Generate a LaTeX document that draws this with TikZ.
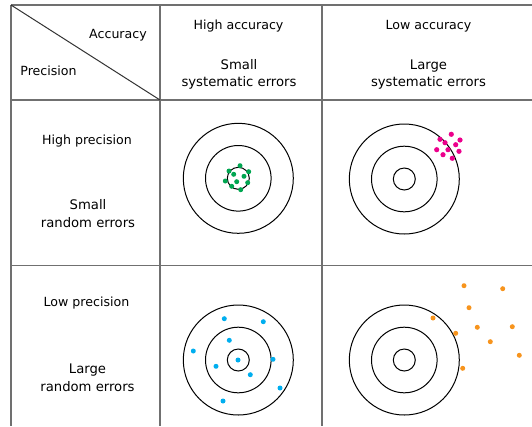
\documentclass[tikz,border=0pt]{standalone}
\usepackage{fontspec}
\setmainfont{DejaVu Sans}
\definecolor{gridgrey}{HTML}{707070}
\definecolor{dotgreen}{HTML}{00A651}
\definecolor{dotmagenta}{HTML}{EC008C}
\definecolor{dotcyan}{HTML}{00AEEF}
\definecolor{dotorange}{HTML}{F7941D}
\tikzset{
  gridline/.style={draw=gridgrey, line width=1.2pt},
  ring/.style={draw=black, line width=1pt},
  smalltxt/.style={anchor=base, inner sep=0pt, font=\fontsize{12.6}{15}\selectfont},
  bigtxt/.style={anchor=base, inner sep=0pt, font=\fontsize{13.2}{17}\selectfont},
}
\newcommand{\mytarget}[2]{%
  \draw[ring] (#1,#2) circle[radius=55];
  \draw[ring] (#1,#2) circle[radius=32.8];
  \draw[ring] (#1,#2) circle[radius=11];
}
\begin{document}
\begin{tikzpicture}[x=1pt,y=-1pt]
\useasboundingbox (0,0) rectangle (532,426);
% grid coordinates
\coordinate (tl) at (11,5);
\coordinate (tr) at (532,5);
\coordinate (bl) at (11,426);
\coordinate (v1t) at (160,5);
\coordinate (v1b) at (160,426);
\coordinate (v2t) at (322,5);
\coordinate (v2b) at (322,426);
\coordinate (h1l) at (11,100);
\coordinate (h1r) at (532,100);
\coordinate (h2l) at (11,265.5);
\coordinate (h2r) at (532,265.5);
\coordinate (diagend) at (160,100);
\draw[gridline] (tl) -- (tr);
\draw[gridline] (tl) -- (bl);
\draw[gridline] (v1t) -- (v1b);
\draw[gridline] (v2t) -- (v2b);
\draw[gridline] (h1l) -- (h1r);
\draw[gridline] (h2l) -- (h2r);
\draw[gridline, line width=1pt, draw=black!80] (tl) -- (diagend);
% header texts
\node[smalltxt] (acc) at (118,38.5) {Accuracy};
\node[smalltxt] (prec) at (48.5,75.5) {Precision};
\node[smalltxt] (hacc) at (238.5,29.5) {High accuracy};
\node[bigtxt] (hacc1) at (239,69) {Small};
\node[bigtxt] (hacc2) at (239,86.5) {systematic errors};
\node[smalltxt] (lacc) at (428.5,29.5) {Low accuracy};
\node[bigtxt] (lacc1) at (428.5,69) {Large};
\node[bigtxt] (lacc2) at (428.5,86.5) {systematic errors};
% row texts
\node[smalltxt] (hprec) at (87,144.5) {High precision};
\node[bigtxt] (hprec1) at (88,209) {Small};
\node[bigtxt] (hprec2) at (88,227.5) {random errors};
\node[smalltxt] (lprec) at (86.5,306.5) {Low precision};
\node[bigtxt] (lprec1) at (87.5,373) {Large};
\node[bigtxt] (lprec2) at (87.5,391.5) {random errors};
% targets
\mytarget{238.3}{178.3}
\mytarget{404.3}{179}
\mytarget{238.3}{360}
\mytarget{404.3}{360}
% green dots
\foreach \p in {(240,165.7),(229,171),(248.7,171.7),(233.7,174.3),(244,176.3),(225.3,181),(236.7,181.7),(247.7,182.7),(231.7,186.3),(240.7,189.7)}
  \fill[dotgreen] \p circle[radius=2.5];
% magenta dots
\foreach \p in {(451.3,134.3),(440,139.3),(460,140),(445,142.7),(455.7,144.7),(436.7,149.7),(448,149.7),(459,151.3),(443,154.7),(452.3,158.3)}
  \fill[dotmagenta] \p circle[radius=2.6];
% cyan dots
\foreach \p in {(224.3,318.7),(263.3,321.7),(229.3,340.3),(193.3,351),(238,360),(273,359.3),(216,366.3),(250.3,374.7),(280,388),(223,401)}
  \fill[dotcyan] \p circle[radius=2.5];
% orange dots
\foreach \p in {(464,285.7),(502.7,288.7),(469,307.7),(433,318),(477.3,327.3),(512.3,326.7),(455.7,333.3),(490.3,341.7),(519.3,355.3),(462.7,368.3)}
  \fill[dotorange] \p circle[radius=2.5];
\end{tikzpicture}
\end{document}
